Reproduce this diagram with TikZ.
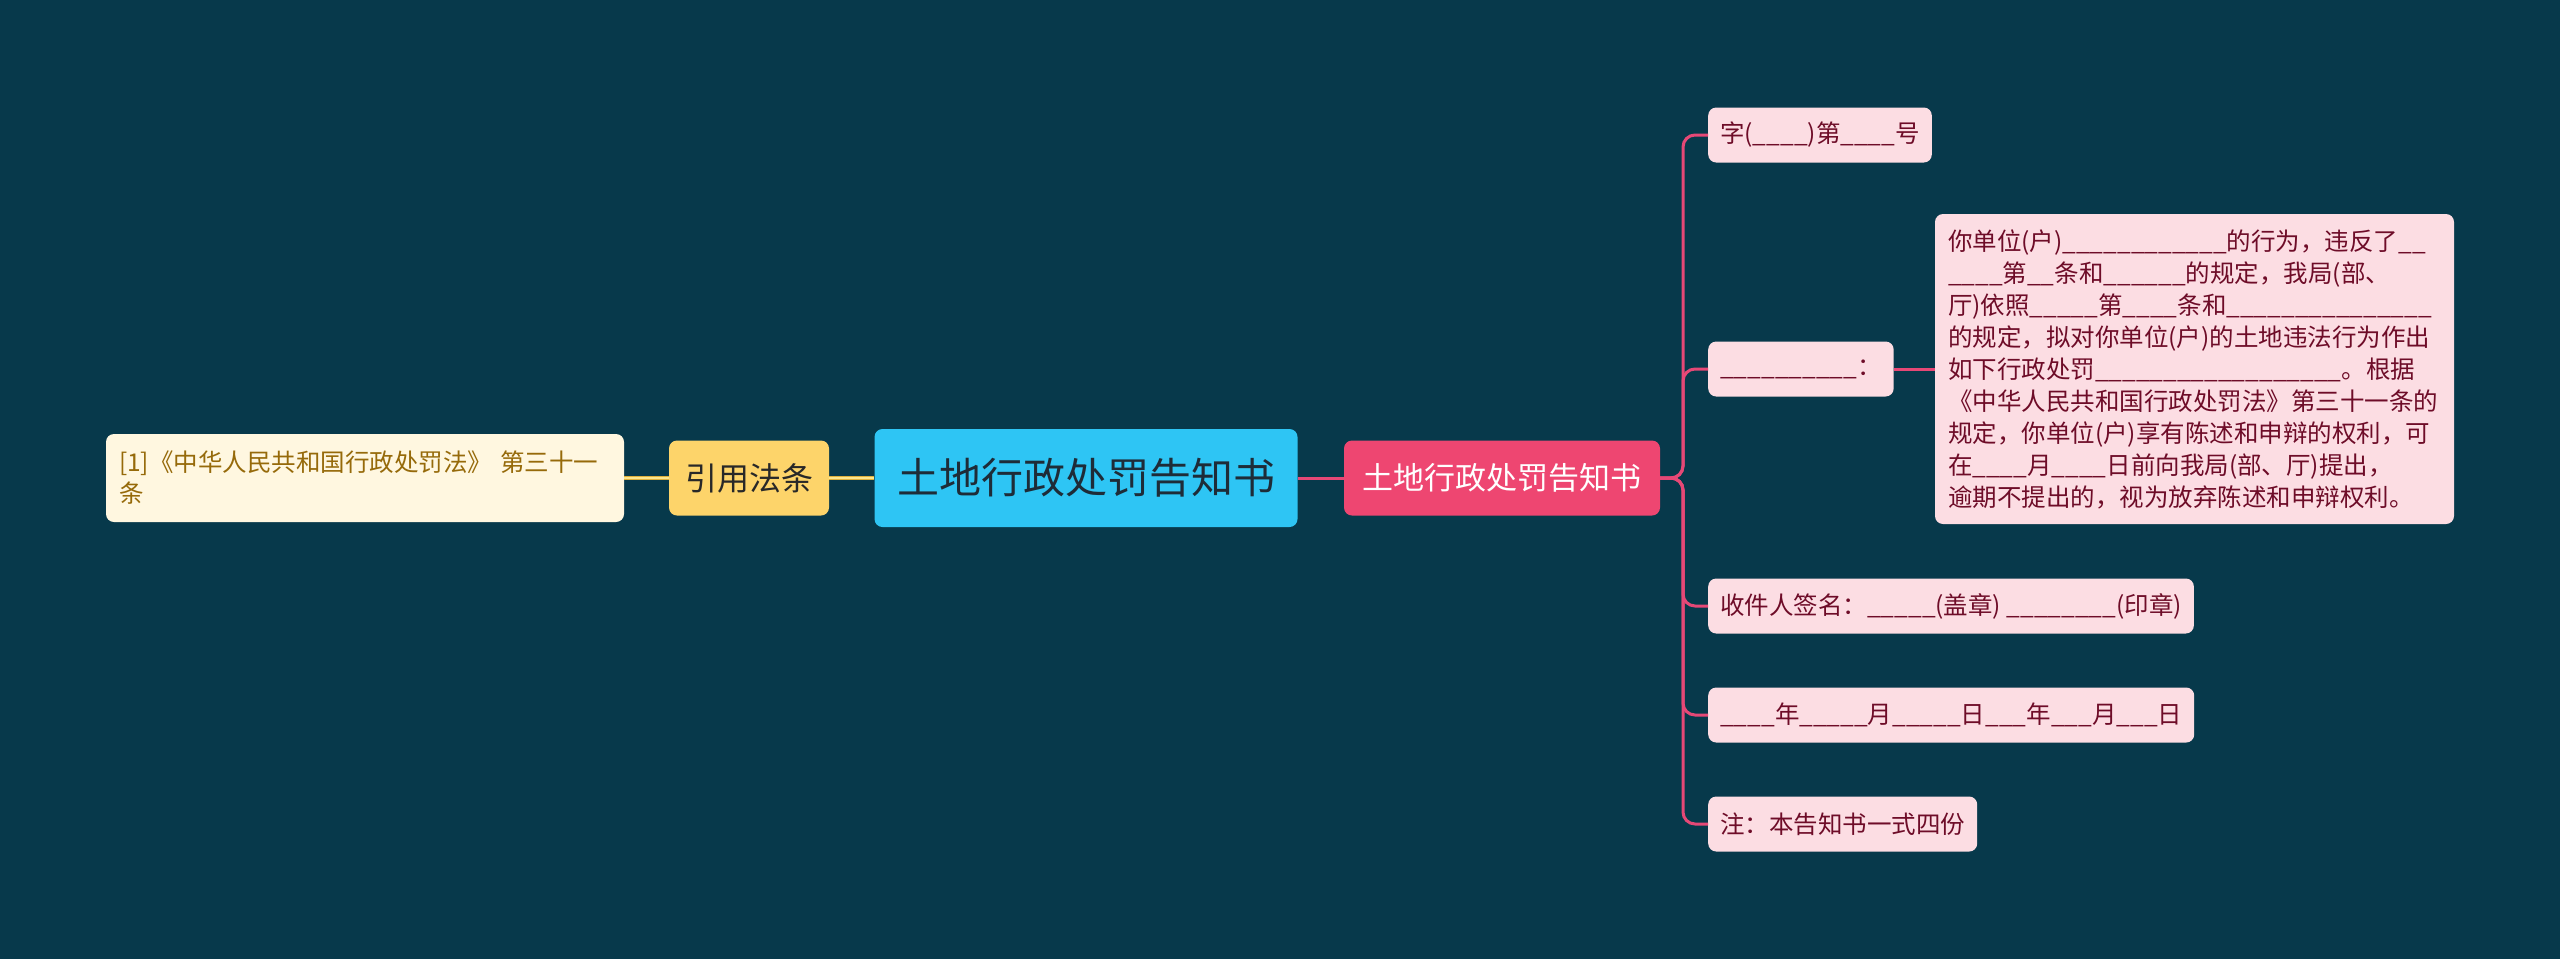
\documentclass[tikz,border=0pt]{standalone}
\usepackage{fontspec}
\newfontfamily\cjk{Noto Sans CJK SC}
\definecolor{bg}{RGB}{7,57,75}
\definecolor{rootfill}{RGB}{46,197,244}
\definecolor{roottext}{RGB}{30,44,56}
\definecolor{mainfill}{RGB}{238,70,113}
\definecolor{yelfill}{RGB}{253,212,106}
\definecolor{yeltext}{RGB}{40,40,40}
\definecolor{creamfill}{RGB}{255,247,224}
\definecolor{creamtext}{RGB}{150,106,10}
\definecolor{leaffill}{RGB}{252,221,227}
\definecolor{leaftext}{RGB}{110,12,40}
\definecolor{pinkln}{RGB}{230,72,118}
\definecolor{goldln}{RGB}{222,176,60}
\definecolor{goldlt}{RGB}{252,230,140}
\newcommand\blanks[1]{\ifnum#1>0 \_\expandafter\blanks\expandafter{\the\numexpr#1-1\relax}\fi}
\tikzset{
  box/.style={rounded corners=8pt, inner sep=0pt},
  rootbox/.style={box, fill=rootfill, text=roottext, font=\cjk\fontsize{42}{50}\selectfont},
  mainbox/.style={box, fill=mainfill, text=white, font=\cjk\fontsize{31}{38}\selectfont},
  yelbox/.style={box, fill=yelfill, text=yeltext, font=\cjk\fontsize{32}{38}\selectfont},
  creambox/.style={box, fill=creamfill, text=creamtext, font=\cjk\fontsize{24.5}{31}\selectfont, inner xsep=13pt},
  leaf/.style={box, fill=leaffill, text=leaftext, font=\cjk\fontsize{24.5}{32}\selectfont, minimum height=55pt, inner xsep=12pt, anchor=west},
  pinkline/.style={draw=pinkln, line width=3pt},
  goldline/.style={draw=goldln, double=goldlt, double distance=1.4pt, line width=1.3pt},
}
\begin{document}
\begin{tikzpicture}[x=1pt,y=-1pt]
\fill[bg] (0,0) rectangle (2560,959);
\useasboundingbox (0,0) rectangle (2560,959);

\node[rootbox, minimum width=423pt, minimum height=98pt] (root) at (1086,478) {土地行政处罚告知书};
\node[mainbox, minimum width=316pt, minimum height=75pt] (main) at (1502,478) {土地行政处罚告知书};
\node[yelbox, minimum width=160pt, minimum height=75pt] (cite) at (749,478) {引用法条};
\node[creambox, text width=492pt, minimum height=88pt, align=left] (ref) at (365,478) {[1]《中华人民共和国行政处罚法》 第三十一\\条};

\node[leaf] (l1) at (1708,135) {字(\blanks{4})第\blanks{4}号};
\node[leaf] (l2) at (1708,369) {\blanks{10}：};
\node[leaf] (l3) at (1708,606) {收件人签名：\blanks{5}(盖章) \blanks{8}(印章)};
\node[leaf] (l4) at (1708,715) {\blanks{4}年\blanks{5}月\blanks{5}日\blanks{3}年\blanks{3}月\blanks{3}日};
\node[leaf] (l5) at (1708,824) {注：本告知书一式四份};

\node[leaf, anchor=center, text width=493pt, align=left, inner xsep=13pt, inner ysep=11pt, minimum height=310pt] (big) at (2194.5,369) {你单位(户)\blanks{12}的行为，违反了\blanks{2}\\
\blanks{4}第\blanks{2}条和\blanks{6}的规定，我局(部、\\
厅)依照\blanks{5}第\blanks{4}条和\blanks{15}\\
的规定，拟对你单位(户)的土地违法行为作出\\
如下行政处罚\blanks{18}。根据\\
《中华人民共和国行政处罚法》第三十一条的\\
规定，你单位(户)享有陈述和申辩的权利，可\\
在\blanks{4}月\blanks{4}日前向我局(部、厅)提出，\\
逾期不提出的，视为放弃陈述和申辩权利。};

\draw[goldline] (ref.east) -- (cite.west);
\draw[goldline] (cite.east) -- (root.west);
\draw[pinkline] (root.east) -- (main.west);
\coordinate (fork) at (1683,478);
\foreach \n in {l1,l2,l3,l4,l5}
  \draw[pinkline, rounded corners=12pt] (main.east) -- (fork) -- (fork |- \n.west) -- (\n.west);
\draw[pinkline] (l2.east) -- (big.west);
\end{tikzpicture}
\end{document}
